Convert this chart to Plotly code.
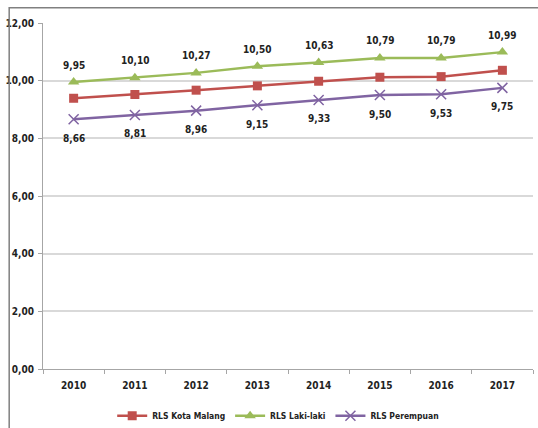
import plotly.graph_objects as go

years = ["2010", "2011", "2012", "2013", "2014", "2015", "2016", "2017"]
rls_kota = [9.39, 9.52, 9.67, 9.82, 9.98, 10.12, 10.14, 10.36]
rls_laki = [9.95, 10.10, 10.27, 10.50, 10.63, 10.79, 10.79, 10.99]
rls_perempuan = [8.66, 8.81, 8.96, 9.15, 9.33, 9.50, 9.53, 9.75]
y_ticks = [0, 2, 4, 6, 8, 10, 12]

FONT = "DejaVu Sans Condensed, Liberation Sans Narrow, sans-serif"
TXT = dict(family=FONT, size=10, color="#222222", weight="bold")
LEG = dict(family=FONT, size=8.5, color="#222222", weight="bold")


def fmt(v):
    return f"{v:.2f}".replace(".", ",")


fig = go.Figure()

fig.add_trace(go.Scatter(
    x=years, y=rls_kota, name="RLS Kota Malang", mode="lines+markers",
    line=dict(color="#C0504D", width=2.5),
    marker=dict(symbol="square", size=9, color="#C0504D"),
))
fig.add_trace(go.Scatter(
    x=years, y=rls_laki, name="RLS Laki-laki", mode="lines+markers",
    line=dict(color="#9BBB59", width=2.5),
    marker=dict(symbol="triangle-up", size=10, color="#9BBB59"),
))
fig.add_trace(go.Scatter(
    x=years, y=rls_perempuan, name="RLS Perempuan", mode="lines+markers",
    line=dict(color="#8064A2", width=2.5),
    marker=dict(symbol="x-thin-open", size=10, line=dict(color="#8064A2", width=1.5)),
))

# value labels: above the Laki-laki line, below the Perempuan line
# (category axis: annotation x is the category's serial index)
for i, v in enumerate(rls_laki):
    fig.add_annotation(x=i, y=v, text=fmt(v), showarrow=False, yshift=17, font=TXT)
for i, v in enumerate(rls_perempuan):
    fig.add_annotation(x=i, y=v, text=fmt(v), showarrow=False, yshift=-19, font=TXT)

# outer frame of the chart area
fig.add_shape(type="rect", xref="paper", yref="paper",
              x0=-0.069, x1=1.1, y0=-0.3, y1=1.044,
              line=dict(color="#808080", width=1.5), fillcolor="rgba(0,0,0,0)")

fig.update_layout(
    width=538, height=428,
    margin=dict(l=43, r=5, t=23, b=59, autoexpand=False),
    paper_bgcolor="white", plot_bgcolor="white",
    separators=",.",
    font=TXT,
    showlegend=True,
    legend=dict(orientation="h", x=0.48, xanchor="center", y=-0.135, yanchor="middle",
                font=LEG, itemwidth=30, tracegroupgap=0),
    xaxis=dict(
        type="category", range=[-0.5, 7.5],
        showline=True, linecolor="#A6A6A6", linewidth=1,
        ticks="outside", tickson="boundaries", ticklen=4, tickcolor="#A6A6A6",
        ticklabelstandoff=7,
        showgrid=False, tickfont=TXT,
    ),
    yaxis=dict(
        range=[0, 12], tickvals=y_ticks, tickformat=".2f",
        showline=True, linecolor="#A6A6A6", linewidth=1,
        ticks="outside", ticklen=4, tickcolor="#A6A6A6",
        ticklabelstandoff=2,
        showgrid=True, gridcolor="#D9D9D9", gridwidth=1.5,
        zeroline=False,
        tickfont=TXT,
    ),
)

fig.write_html("out.html")
